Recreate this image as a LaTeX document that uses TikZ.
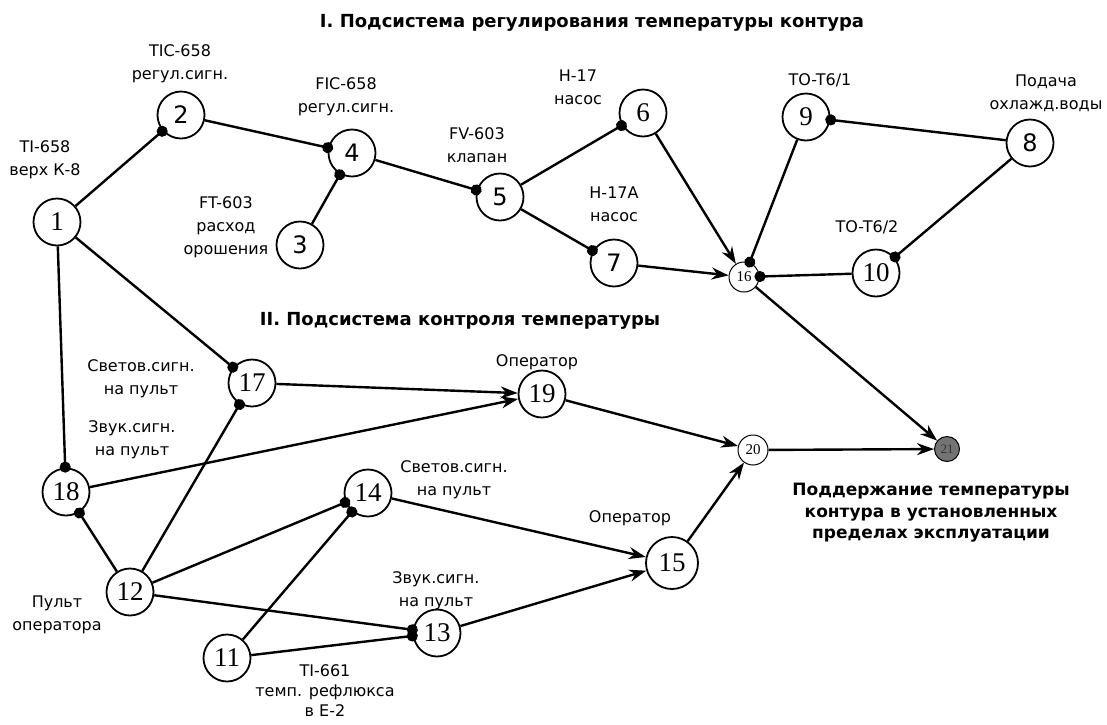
\documentclass[tikz,border=0pt]{standalone}
\usepackage{fontspec}
\setmainfont{DejaVu Sans}
\newfontfamily\serifnum{Liberation Serif}
\usetikzlibrary{arrows.meta}
\begin{document}
\begin{tikzpicture}[x=1pt,y=-1pt,
  nd/.style={circle,draw,line width=1.8pt,minimum size=47pt,inner sep=0pt,font=\fontsize{24}{24}\selectfont},
  ndser/.style={nd,font=\serifnum\fontsize{27}{27}\selectfont},
  sm/.style={circle,draw,line width=1pt,minimum size=30pt,inner sep=0pt,font=\serifnum\fontsize{15}{15}\selectfont},
  lbl/.style={align=center,font=\fontsize{16}{23}\selectfont,inner sep=0pt},
  ttl/.style={font=\bfseries\fontsize{18}{21.5}\selectfont,align=center,inner sep=0pt},
  goal/.style={font=\bfseries\fontsize{17}{21.5}\selectfont,align=center,inner sep=0pt},
  ln/.style={line width=2.4pt},
  dt/.style={ln,-{Circle[length=11pt]},shorten >=-5pt},
  ar/.style={ln,-{Stealth[length=17pt,width=12pt]}},
]
\useasboundingbox (0,0) rectangle (1107,724);
\fill[white] (0,0) rectangle (1107,724);

% titles
\node[ttl] (t1) at (592,23) {I. Подсистема регулирования температуры контура};
\node[ttl] (t2) at (460,321) {II. Подсистема контроля температуры};

% nodes
\node[ndser] (n1) at (57,222) {1};
\node[nd] (n2) at (181,115) {2};
\node[nd] (n3) at (300,245) {3};
\node[nd] (n4) at (352,153) {4};
\node[nd] (n5) at (500,197) {5};
\node[ndser] (n6) at (643,113) {6};
\node[nd] (n7) at (614,263) {7};
\node[nd] (n8) at (1030,143) {8};
\node[ndser] (n9) at (806,117) {9};
\node[ndser] (n10) at (876,273) {10};
\node[sm] (n16) at (744,277) {16};
\node[ndser] (n11) at (227,658) {11};
\node[ndser] (n12) at (130,592) {12};
\node[ndser] (n13) at (437,633) {13};
\node[ndser] (n14) at (368,493) {14};
\node[ndser,minimum size=52pt] (n15) at (672,563) {15};
\node[ndser] (n17) at (252,383) {17};
\node[ndser] (n18) at (66,492) {18};
\node[ndser] (n19) at (542,394) {19};
\node[sm] (n20) at (753,450) {20};
\node[sm,minimum size=25pt,fill=black!55,text=black!80,font=\serifnum\fontsize{13}{13}\selectfont] (n21) at (947,449) {21};

% labels
\node[lbl] (l2) at (180,64) {TIC-658\\регул.сигн.};
\node[lbl] (l1) at (45,160) {TI-658\\верх К-8};
\node[lbl] (l4) at (346,97) {FIC-658\\регул.сигн.};
\node[lbl] (l5) at (477,145) {FV-603\\клапан};
\node[lbl] (l3) at (226,227) {FT-603\\расход\\орошения};
\node[lbl] (l6) at (578,87) {Н-17\\насос};
\node[lbl] (l7) at (614,204) {Н-17А\\насос};
\node[lbl] (l9) at (820,80) {TO-T6/1};
\node[lbl] (l8) at (1046,93) {Подача\\охлажд.воды};
\node[lbl] (l10) at (867,227) {TO-T6/2};
\node[lbl] (l17) at (141,379) {Светов.сигн.\\на пульт};
\node[lbl] (l18) at (132,440) {Звук.сигн.\\на пульт};
\node[lbl] (l19) at (537,362) {Оператор};
\node[lbl] (l14) at (454,480) {Светов.сигн.\\на пульт};
\node[lbl] (l15) at (630,518) {Оператор};
\node[lbl] (l13) at (436,591) {Звук.сигн.\\на пульт};
\node[lbl] (l12) at (57,615) {Пульт\\оператора};
\node[lbl,font=\fontsize{16}{20}\selectfont] (l11) at (325,691) {TI-661\\темп. рефлюкса\\в Е-2};
\node[goal] (l21) at (931,513) {Поддержание температуры\\контура в установленных\\пределах эксплуатации};

% connectors with dots
\draw[dt] (n1) -- (n2);
\draw[dt] (n2) -- (n4);
\draw[dt] (n3) -- (n4);
\draw[dt] (n4) -- (n5);
\draw[dt] (n5) -- (n6);
\draw[dt] (n5) -- (n7);
\draw[dt] (n9) -- (n16);
\draw[dt] (n8) -- (n9);
\draw[dt] (n8) -- (n10);
\draw[dt] (n10) -- (n16);
\draw[dt] (n1) -- (n17);
\draw[dt] (n1) -- (n18);
\draw[dt] (n12) -- (n17);
\draw[dt] (n12) -- (n18);
\draw[dt] (n12) -- (n14);
\draw[dt] (n11) -- (n14);
\draw[dt] (n12) -- (n13);
\draw[dt] (n11) -- (n13);

% connectors with arrows
\draw[ar] (n6) -- (n16);
\draw[ar] (n7) -- (n16);
\draw[ar] (n16) -- (n21);
\draw[ar] (n17) -- (n19);
\draw[ar] (n18) -- (n19);
\draw[ar] (n19) -- (n20);
\draw[ar] (n14) -- (n15);
\draw[ar] (n13) -- (n15);
\draw[ar] (n15) -- (n20);
\draw[ar] (n20) -- (n21);
\end{tikzpicture}
\end{document}
